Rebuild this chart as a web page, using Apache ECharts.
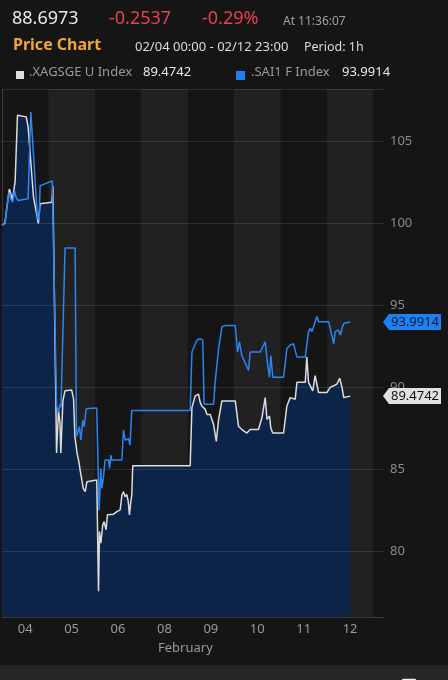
<!DOCTYPE html>
<html>
<head>
<meta charset="utf-8">
<script src="https://cdn.jsdelivr.net/npm/echarts@6/dist/echarts.min.js"></script>
<style>
html,body{margin:0;padding:0;background:#151515;}
#c{width:448px;height:680px;}
</style>
</head>
<body>
<div id="c"></div>
<script>
// ---- data (x = hours since 02/04 00:00 on the trading-day axis) ----
const dayLabels = ['04', '05', '06', '08', '09', '10', '11', '12'];
const yTicks = [80, 85, 90, 95, 100, 105];
const yMin = 76, yMax = 108.2, xMax = 197;
const xagName = '.XAGSGE U Index', saiName = '.SAI1 F Index';
const xagLast = 89.4742, saiLast = 93.9914;
const lastPrice = '88.6973', change = '-0.2537', changePct = '-0.29%';

const xagData = [
  [0, 99.9], [1.5, 100.0], [3.2, 101.6], [3.8, 102.1], [4.4, 101.9], [5.2, 101.4], [6.0, 101.9],
  [6.8, 102.6], [7.6, 102.6], [8.0, 106.6], [12.5, 106.5], [13.5, 105.9], [16.3, 101.6],
  [18.8, 100.0], [19.7, 101.2], [25.8, 101.3], [26.3, 102.3], [28.2, 86.0], [29.2, 88.6],
  [30.0, 87.8], [30.4, 86.0], [31.5, 89.2], [32.6, 89.8], [36.0, 89.85], [37.0, 89.3],
  [37.7, 87.0], [38.8, 86.0], [39.7, 85.5], [40.4, 84.96], [42.0, 83.85], [43.0, 83.64],
  [43.9, 84.25], [44.7, 84.35], [49.0, 84.35], [49.9, 77.57], [50.4, 81.21], [51.1, 80.51],
  [52.1, 81.62], [52.8, 81.82], [53.8, 81.32], [54.5, 82.23], [57.7, 82.27], [59.4, 82.43],
  [61.1, 82.53], [62.0, 83.44], [62.8, 83.64], [63.7, 83.34], [64.5, 83.48], [65.3, 83.04],
  [65.9, 82.23], [66.6, 83.04], [67.1, 83.44], [67.6, 85.23], [97.3, 85.23], [98.2, 88.77],
  [99.9, 89.49], [101.6, 89.59], [102.5, 89.07], [103.3, 88.87], [105.1, 88.66], [106.0, 88.35],
  [107.7, 88.35], [109.4, 87.74], [110.8, 86.71], [112.0, 88.05], [113.7, 89.18], [120.6, 89.18],
  [122.3, 87.63], [124.0, 87.43], [126.6, 87.22], [128.3, 87.43], [132.6, 87.43], [134.4, 88.15],
  [136.1, 89.38], [137.0, 88.05], [138.3, 88.25], [139.0, 87.53], [140.0, 87.22], [145.6, 87.22],
  [147.3, 88.87], [149.0, 89.38], [151.6, 89.28], [152.5, 90.31], [156.8, 90.31], [157.6, 91.85],
  [158.5, 90.31], [159.4, 90.41], [160.7, 89.79], [161.9, 90.72], [162.8, 90.21], [163.7, 89.69],
  [168.0, 89.69], [169.7, 90.0], [171.5, 90.10], [172.3, 90.0], [173.2, 90.21], [174.6, 90.56],
  [175.8, 90.0], [176.7, 89.38], [180.1, 89.47]
];

const saiData = [
  [0, 99.9], [1.5, 100.0], [3.0, 101.4], [3.8, 101.9], [4.5, 101.5], [5.5, 101.3], [6.5, 102.0],
  [7.2, 101.6], [8.3, 101.4], [13.5, 101.5], [14.9, 106.8], [18.3, 100.4], [19.2, 100.2],
  [19.7, 102.3], [26.0, 102.6], [28.2, 88.9], [29.2, 88.5], [30.1, 89.0], [30.5, 88.8],
  [32.6, 98.5], [37.8, 98.5], [38.5, 87.0], [39.0, 87.2], [40.0, 87.6], [40.8, 86.8],
  [41.8, 88.0], [42.5, 87.6], [43.5, 88.7], [49.0, 88.75], [50.2, 82.5], [51.1, 85.06],
  [51.6, 83.85], [52.4, 84.45], [53.3, 85.57], [55.1, 85.57], [55.6, 85.06], [56.3, 85.87],
  [56.8, 85.57], [62.0, 85.57], [62.8, 87.39], [63.7, 86.78], [64.5, 86.68], [65.4, 86.88],
  [66.2, 86.48], [67.1, 88.6], [97.3, 88.6], [98.2, 92.16], [99.0, 92.26], [100.8, 92.88],
  [102.5, 92.98], [103.8, 92.88], [104.5, 88.97], [109.4, 88.97], [110.2, 90.31], [112.0, 92.37],
  [113.7, 93.70], [115.4, 93.77], [120.6, 93.77], [121.8, 92.16], [122.8, 92.78], [124.0, 91.95],
  [124.9, 92.06], [127.5, 91.03], [128.3, 92.16], [133.5, 92.16], [136.1, 92.78], [137.3, 91.44],
  [138.3, 90.62], [139.0, 91.95], [140.0, 90.62], [145.6, 90.62], [147.3, 92.37], [149.0, 92.57],
  [150.7, 92.67], [152.5, 91.85], [156.8, 91.85], [158.5, 93.40], [159.4, 93.60], [160.2, 93.40],
  [161.1, 93.70], [162.8, 94.32], [163.7, 94.01], [168.9, 94.01], [171.5, 92.67], [172.3, 93.40],
  [174.0, 93.50], [175.0, 93.19], [175.8, 93.60], [176.7, 93.9], [180.1, 93.99]
];

// ---- chart ----
const FONT = 'Noto Sans';
const chart = echarts.init(document.getElementById('c'), null, {renderer: 'canvas'});

const bands = [];
dayLabels.forEach(function (d, i) {
  if (i % 2 === 1) bands.push([{xAxis: i * 24}, {xAxis: (i + 1) * 24}]);
});
const labelHours = dayLabels.map(function (d, i) { return i * 24 + 12; });

function tag(value, bg, fg) {
  return {
    symbol: 'path://M0,8L6,0L58,0L58,16L6,16Z',
    symbolSize: [58, 16],
    symbolOffset: [29, 0],
    symbolKeepAspect: false,
    silent: true,
    data: [{coord: [xMax, value], value: value}],
    itemStyle: {color: bg},
    label: {
      show: true, position: 'inside', offset: [3, 0], color: fg,
      fontFamily: FONT, fontSize: 13, formatter: value.toFixed(4)
    }
  };
}

function txt(x, y, text, color, size, weight) {
  return {
    type: 'text', left: x, top: y - size * 0.7, silent: true,
    style: {text: text, fill: color, font: (weight || 'normal') + ' ' + size + 'px "' + FONT + '"'}
  };
}

const option = {
  backgroundColor: '#151515',
  animation: false,
  grid: {left: 2, right: 65, top: 89, bottom: 63, containLabel: false},
  xAxis: {
    type: 'value', min: 0, max: xMax,
    axisLine: {show: true, lineStyle: {color: '#3a3a3a', width: 1}},
    axisTick: {show: false},
    splitLine: {show: false},
    axisLabel: {
      show: true, customValues: labelHours, color: '#9a9a9a', fontFamily: FONT, fontSize: 13, margin: 6,
      formatter: function (v) { return dayLabels[Math.floor(v / 24)] || ''; }
    }
  },
  yAxis: {
    type: 'value', position: 'right', min: yMin, max: yMax,
    axisLine: {show: true, lineStyle: {color: '#3a3a3a', width: 1}},
    axisTick: {show: false},
    splitLine: {show: false},
    axisLabel: {
      customValues: yTicks, color: '#8a8a8a', fontFamily: FONT, fontSize: 13, margin: 7
    }
  },
  series: [
    {
      name: xagName + ' area', type: 'line', data: xagData, symbol: 'none', z: 1,
      lineStyle: {width: 0}, areaStyle: {color: '#0b2448', opacity: 1, origin: 'start'}, silent: true
    },
    {
      name: 'bands', type: 'line', data: [], z: 2, silent: true,
      markArea: {silent: true, itemStyle: {color: 'rgba(255,255,255,0.055)'}, data: bands},
      markLine: {
        silent: true, symbol: 'none', label: {show: false},
        lineStyle: {color: 'rgba(255,255,255,0.11)', type: 'solid', width: 1},
        data: yTicks.concat([yMax]).map(function (v) { return {yAxis: v}; })
      }
    },
    {
      name: xagName, type: 'line', data: xagData, symbol: 'none', z: 3, clip: false,
      lineStyle: {color: '#dcdcdc', width: 1.5}, itemStyle: {color: '#dcdcdc'},
      markPoint: tag(xagLast, '#e2e2e2', '#111111')
    },
    {
      name: saiName, type: 'line', data: saiData, symbol: 'none', z: 4, clip: false,
      lineStyle: {color: '#2a84f4', width: 1.5}, itemStyle: {color: '#2a84f4'},
      markPoint: tag(saiLast, '#1f80f2', '#0a1a33')
    }
  ],
  graphic: [
    txt(12, 22, lastPrice, '#e8e8e8', 18),
    txt(109, 22, change, '#e5414e', 18),
    txt(202, 22, changePct, '#e5414e', 18),
    txt(283, 24, 'At 11:36:07', '#a0a0a0', 12),
    txt(13, 49, 'Price Chart', '#f0a43c', 16, 'bold'),
    txt(135, 50, '02/04 00:00 - 02/12 23:00', '#dcdcdc', 13),
    txt(304, 50, 'Period: 1h', '#dcdcdc', 12.5),
    {type: 'rect', left: 16, top: 71, shape: {width: 8, height: 8}, style: {fill: '#dddddd'}, silent: true},
    txt(29, 75, xagName, '#9a9a9a', 13),
    txt(143, 75, xagLast.toFixed(4), '#e8e8e8', 13),
    {type: 'rect', left: 236, top: 71, shape: {width: 9, height: 9}, style: {fill: '#1f80f2'}, silent: true},
    txt(251, 75, saiName, '#9a9a9a', 13),
    txt(342, 75, saiLast.toFixed(4), '#e8e8e8', 13),
    txt(158, 651, 'February', '#9a9a9a', 13),
    {type: 'rect', left: 0, top: 665, shape: {width: 448, height: 15}, style: {fill: '#262626'}, silent: true},
    {type: 'rect', left: 400, top: 677, shape: {width: 13, height: 10, r: 1}, style: {fill: 'none', stroke: '#eeeeee', lineWidth: 1.5}, silent: true}
  ]
};
chart.setOption(option);
</script>
</body>
</html>
